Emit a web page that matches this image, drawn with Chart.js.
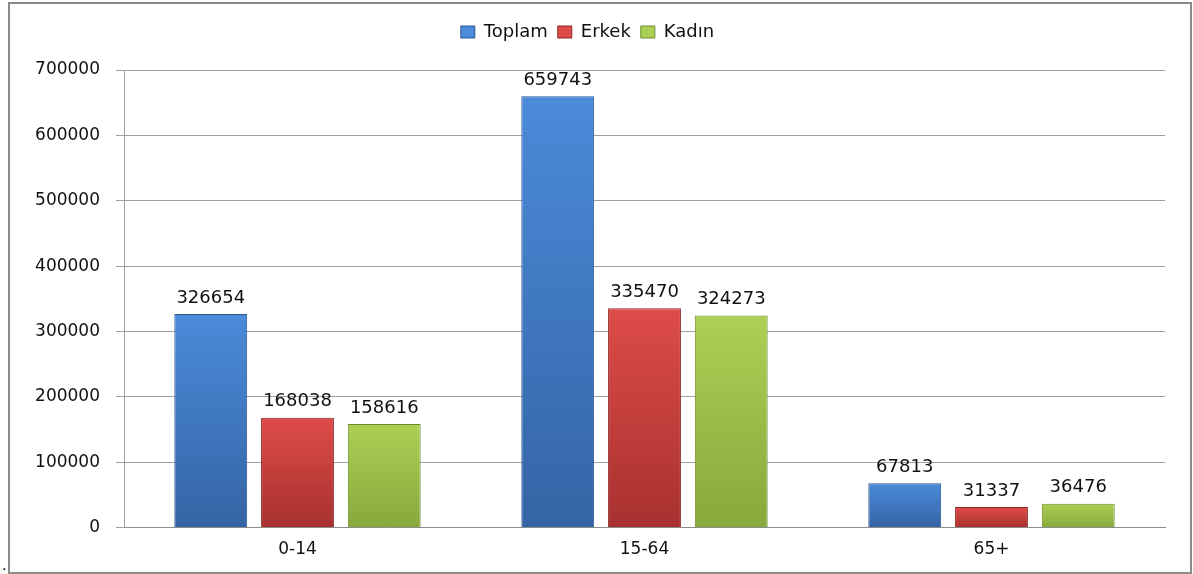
<!DOCTYPE html>
<html>
<head>
<meta charset="utf-8">
<script src="https://cdn.jsdelivr.net/npm/chart.js@4"></script>
<style>
  body { margin: 0; background: #fff; }
  #frame { position: absolute; left: 8px; top: 2px; width: 1180px; height: 568px; border: 2px solid #8c8c8c; background: #fff; }
  #dot { position: absolute; left: 2px; top: 556px; font: 16px "Liberation Sans"; }
</style>
</head>
<body>
<div id="frame"><canvas id="myChart"></canvas></div>
<div id="dot">.</div>
<script>
// yas gruplari ve nufus
const kategoriler = ['0-14', '15-64', '65+'];
const toplam = [326654, 659743, 67813];
const erkek = [168038, 335470, 31337];
const kadin = [158616, 324273, 36476];
const yTicks = [0, 100000, 200000, 300000, 400000, 500000, 600000, 700000];

const renkler = [
  { top: '#4b8bd9', bottom: '#3464a5', border: '#2b5590' },
  { top: '#dd4c48', bottom: '#a8312f', border: '#8e2826' },
  { top: '#abd054', bottom: '#87a93d', border: '#6e8c2c' }
];

const fontAdi = '"DejaVu Sans", "Liberation Sans", sans-serif';

// barlara dikey gradient
const gradientPlugin = {
  id: 'gradyan',
  beforeDatasetsDraw(chart) {
    const ctx = chart.ctx;
    chart.data.datasets.forEach((ds, i) => {
      const r = renkler[i];
      chart.getDatasetMeta(i).data.forEach(bar => {
        const g = ctx.createLinearGradient(0, bar.y, 0, bar.base);
        g.addColorStop(0, r.top);
        g.addColorStop(1, r.bottom);
        bar.options.backgroundColor = g;
      });
    });
  }
};

// deger etiketleri
const etiketPlugin = {
  id: 'etiketler',
  afterDatasetsDraw(chart) {
    const ctx = chart.ctx;
    ctx.save();
    ctx.font = '18px ' + fontAdi;
    ctx.fillStyle = '#111';
    ctx.textAlign = 'center';
    ctx.textBaseline = 'bottom';
    chart.data.datasets.forEach((ds, i) => {
      chart.getDatasetMeta(i).data.forEach((bar, j) => {
        ctx.fillText(ds.data[j], bar.x, bar.y - 7);
      });
    });
    ctx.restore();
  }
};

// lejant altina bosluk
const lejantBosluk = {
  id: 'lejantBosluk',
  beforeInit(chart) {
    const fit = chart.legend.fit;
    chart.legend.fit = function () {
      fit.call(this);
      this.height += 19;
    };
  }
};

const ctx = document.getElementById('myChart');
new Chart(ctx, {
  type: 'bar',
  data: {
    labels: kategoriler,
    datasets: [
      { label: 'Toplam', data: toplam, backgroundColor: () => renkler[0].top, borderColor: renkler[0].border, borderWidth: 1 },
      { label: 'Erkek', data: erkek, backgroundColor: () => renkler[1].top, borderColor: renkler[1].border, borderWidth: 1 },
      { label: 'Kadın', data: kadin, backgroundColor: () => renkler[2].top, borderColor: renkler[2].border, borderWidth: 1 }
    ]
  },
  options: {
    responsive: true,
    maintainAspectRatio: false,
    animation: false,
    categoryPercentage: 0.75,
    barPercentage: 0.84,
    layout: { padding: { left: 0, right: 25, top: 9, bottom: 0 } },
    plugins: {
      legend: {
        position: 'top',
        labels: {
          font: { size: 18, family: fontAdi },
          color: '#111',
          boxWidth: 14,
          boxHeight: 12,
          padding: 10,
          generateLabels(chart) {
            return chart.data.datasets.map((ds, i) => ({
              text: ds.label,
              fillStyle: renkler[i].top,
              strokeStyle: renkler[i].border,
              lineWidth: 1,
              datasetIndex: i,
              fontColor: '#111'
            }));
          }
        }
      },
      tooltip: { enabled: false }
    },
    scales: {
      x: {
        grid: { display: false, drawTicks: false },
        border: { color: '#8c8c8c' },
        ticks: { font: { size: 17, family: fontAdi }, color: '#111', padding: 12 }
      },
      y: {
        min: 0,
        max: 700000,
        afterBuildTicks(axis) { axis.ticks = yTicks.map(v => ({ value: v })); },
        afterFit(axis) { axis.width = 114; },
        grid: { color: '#a0a0a0', tickLength: 8 },
        border: { color: '#a0a0a0' },
        ticks: { font: { size: 17, family: fontAdi }, color: '#111', padding: 16, callback: v => String(v) }
      }
    }
  },
  plugins: [gradientPlugin, etiketPlugin, lejantBosluk]
});
</script>
</body>
</html>
